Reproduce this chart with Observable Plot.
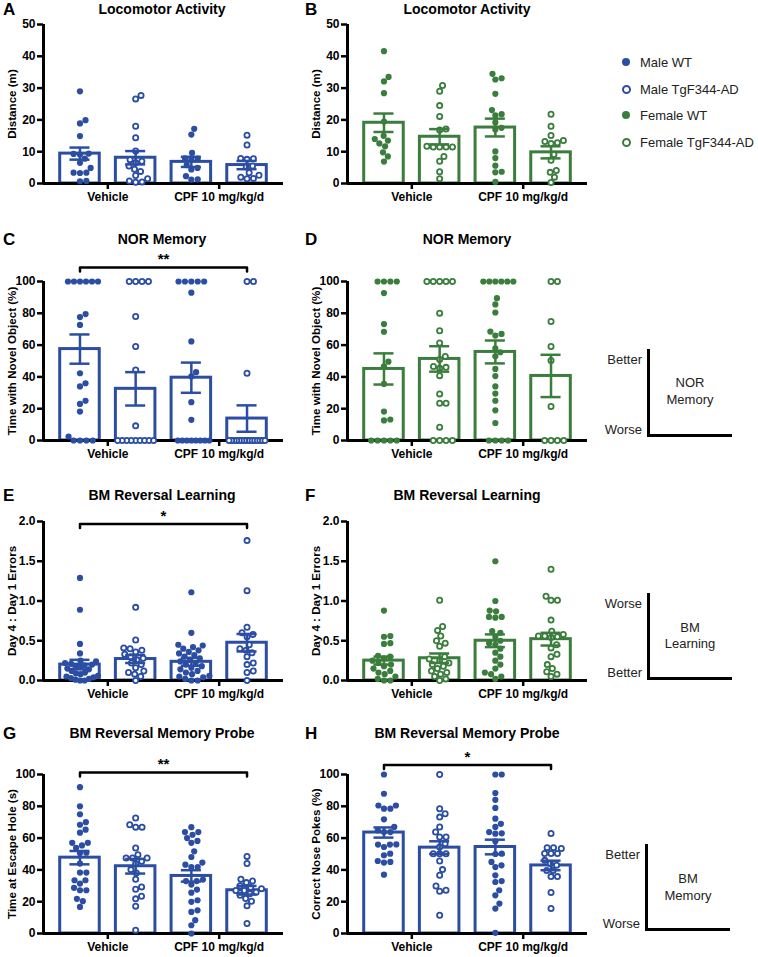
<!DOCTYPE html>
<html><head><meta charset="utf-8">
<script src="https://cdn.jsdelivr.net/npm/d3@7"></script>
<script src="https://cdn.jsdelivr.net/npm/@observablehq/plot@0.6"></script>
<style>
body{margin:0;background:#fff}
#root{position:relative;width:758px;height:957px;overflow:hidden;font-family:"Liberation Sans",Arial,Helvetica,sans-serif;color:#000;background:#fff}
.abs{position:absolute;white-space:nowrap;line-height:1}
.letter{font-weight:bold;font-size:17px;transform:translate(0,-50%)}
.title{font-weight:bold;font-size:14px;transform:translate(-50%,-50%)}
.ylab{font-weight:bold;font-size:11.6px;transform:translate(-50%,-50%) rotate(-90deg)}
.leg{font-size:13px;color:#222;transform:translate(0,-50%)}
.ann{font-size:13px;color:#222}
.plot{position:absolute}
</style></head>
<body><div id="root"></div>
<script>
// ---------- data ----------
const xTickLabels = ["Vehicle", "CPF 10 mg/kg/d"];
const groupOrder = ["WT Vehicle", "TgF344-AD Vehicle", "WT CPF", "TgF344-AD CPF"];
const legendLabels = ["Male WT", "Male TgF344-AD", "Female WT", "Female TgF344-AD"];
const panelTitles = ["Locomotor Activity", "Locomotor Activity", "NOR Memory", "NOR Memory",
  "BM Reversal Learning", "BM Reversal Learning", "BM Reversal Memory Probe", "BM Reversal Memory Probe"];
const panelLetters = ["A", "B", "C", "D", "E", "F", "G", "H"];
const yLabels = ["Distance (m)", "Distance (m)", "Time with Novel Object (%)", "Time with Novel Object (%)",
  "Day 4 : Day 1 Errors", "Day 4 : Day 1 Errors", "Time at Escape Hole (s)", "Correct Nose Pokes (%)"];
const ticks50 = [0, 10, 20, 30, 40, 50];
const ticks100 = [0, 20, 40, 60, 80, 100];
const ticks2 = [0, 0.5, 1, 1.5, 2];

// A: male locomotor
const A_points = [
  [29.0, 19.9, 18.9, 14.9, 9.4, 9.3, 9.1, 7.8, 6.5, 4.9, 3.4, 3.4, 3.3, 0.8, 0.7],
  [27.7, 26.6, 18.0, 14.4, 10.2, 7.5, 7.0, 6.5, 5.5, 4.5, 3.8, 2.5, 1.5, 0.8, 0.5, 0.4],
  [17.2, 15.4, 9.6, 7.9, 7.8, 7.6, 5.8, 4.9, 4.4, 2.3, 1.3, 1.2],
  [15.2, 12.1, 7.9, 7.8, 7.6, 5.5, 5.2, 3.4, 2.6, 2.0, 1.6, 1.5]];
const A_mean = [9.4, 8.1, 6.8, 5.8];
const A_sem = [1.9, 2.1, 1.6, 1.3];
// B: female locomotor
const B_points = [
  [41.6, 33.5, 32.1, 28.4, 19.5, 15.0, 14.0, 13.5, 12.6, 11.7, 9.8, 8.5, 6.9],
  [30.8, 29.0, 24.5, 21.1, 17.1, 16.8, 11.7, 11.5, 11.5, 11.5, 11.5, 8.5, 7.0, 3.7, 1.5],
  [34.5, 33.1, 32.7, 28.2, 23.1, 21.8, 21.4, 19.2, 17.5, 17.0, 10.1, 8.0, 5.6, 3.7, 3.5, 0.5],
  [21.8, 18.0, 15.1, 13.5, 13.2, 12.8, 12.6, 9.1, 7.3, 4.1, 3.5, 2.0, 0.3]];
const B_mean = [19.1, 14.7, 17.6, 9.8];
const B_sem = [2.9, 2.4, 2.8, 1.9];
// C: male NOR
const C_points = [
  [100, 100, 100, 100, 100, 100, 79.5, 77.6, 72.7, 42.3, 36, 34, 25, 23, 18.2, 2.5, 0, 0, 0, 0],
  [100, 100, 100, 100, 78, 59.1, 44.4, 9.2, 0, 0, 0, 0, 0, 0, 0, 0, 0],
  [100, 100, 100, 100, 100, 93, 62.3, 43, 40.3, 24.1, 13, 0, 0, 0, 0, 0, 0, 0, 0],
  [100, 100, 42.3, 0, 0, 0, 0, 0, 0, 0, 0, 0, 0, 0, 0, 0, 0, 0]];
const C_mean = [57.5, 32.5, 39.5, 13.8];
const C_sem = [9.2, 10.5, 9.5, 8.3];
// D: female NOR
const D_points = [
  [100, 100, 100, 100, 92.7, 73.2, 68.4, 49.6, 46.7, 35.6, 18.2, 13.2, 12.6, 0, 0, 0, 0, 0],
  [100, 100, 100, 100, 100, 80.1, 69, 61.3, 52.9, 51, 46, 45.5, 46.5, 40.8, 29.3, 23.4, 23.4, 8.4, 0, 0, 0, 0],
  [100, 100, 100, 100, 100, 100, 89.5, 85.6, 80.5, 68.5, 67, 66, 58, 55.5, 53, 45, 40.5, 34, 29.5, 25, 19, 11, 0, 0, 0, 0],
  [100, 100, 74.8, 59.1, 50.3, 21.4, 0, 0, 0, 0]];
const D_mean = [45, 51.3, 55.7, 40.6];
const D_sem = [9.8, 8.0, 7.2, 13.3];
// E: male BM reversal learning
const E_points = [
  [1.29, 0.89, 0.46, 0.34, 0.25, 0.24, 0.22, 0.21, 0.2, 0.19, 0.18, 0.17, 0.15, 0.14, 0.12, 0.1, 0.09, 0.08, 0.06, 0.05, 0.04, 0.03, 0.02, 0.01, 0, 0],
  [0.92, 0.51, 0.41, 0.4, 0.38, 0.36, 0.33, 0.3, 0.28, 0.26, 0.22, 0.2, 0.16, 0.12, 0.1, 0.08, 0.05, 0],
  [1.11, 0.6, 0.45, 0.44, 0.42, 0.4, 0.38, 0.36, 0.34, 0.32, 0.3, 0.28, 0.26, 0.24, 0.22, 0.2, 0.18, 0.16, 0.14, 0.12, 0.1, 0.08, 0.06, 0.05, 0.04, 0.02, 0, 0],
  [1.76, 1.13, 0.67, 0.6, 0.58, 0.55, 0.45, 0.4, 0.38, 0.35, 0.3, 0.22, 0.2, 0.12, 0.1, 0]];
const E_mean = [0.2, 0.27, 0.235, 0.475];
const E_sem = [0.06, 0.05, 0.05, 0.11];
// F: female BM reversal learning
const F_points = [
  [0.88, 0.56, 0.55, 0.47, 0.46, 0.31, 0.3, 0.28, 0.25, 0.22, 0.2, 0.18, 0.15, 0.12, 0.1, 0.08, 0.05, 0.02, 0, 0],
  [1.01, 0.68, 0.63, 0.56, 0.5, 0.47, 0.43, 0.3, 0.27, 0.25, 0.22, 0.2, 0.18, 0.15, 0.12, 0.1, 0.08, 0.05, 0.02, 0],
  [1.5, 1.0, 0.88, 0.87, 0.8, 0.8, 0.79, 0.62, 0.6, 0.55, 0.5, 0.47, 0.45, 0.4, 0.35, 0.3, 0.25, 0.2, 0.15, 0.1, 0.08, 0.05, 0.02],
  [1.4, 1.06, 1.01, 1.01, 0.76, 0.62, 0.58, 0.56, 0.56, 0.55, 0.54, 0.45, 0.41, 0.33, 0.3, 0.2, 0.15, 0.11, 0.08, 0.05]];
const F_mean = [0.25, 0.28, 0.5, 0.52];
const F_sem = [0.05, 0.06, 0.08, 0.08];
// G: male BM memory probe (time at escape hole)
const G_points = [
  [92, 80, 75, 70, 68.4, 65.3, 63.4, 53.8, 57, 57, 55.4, 50.8, 50.6, 44, 38.3, 38.3, 33.5, 33.5, 31.4, 28.7, 27.2, 27.2, 21.8, 20.3, 16.7],
  [72.6, 68.4, 66.9, 66.9, 53.8, 49.6, 47.5, 45.4, 47.5, 47.5, 44, 40.2, 38.1, 34.1, 29.3, 27.8, 21.8, 23.4, 17.2, 2.1],
  [66.9, 63.8, 63.8, 62.1, 60, 58.2, 57, 51.7, 48.1, 43.3, 44.6, 41.8, 41.8, 33.9, 33, 33, 30.8, 27.6, 25.7, 19.9, 20.9, 14.6, 13.6, 8.4, 5.2, 0],
  [48.5, 44, 34.1, 33, 32, 30, 29, 28.2, 27, 27, 26, 25, 24, 22, 20.3, 17.4, 6.3]];
const G_mean = [47.7, 42.3, 36.2, 27.2];
const G_sem = [4.2, 4.6, 3.6, 2.7];
// H: male BM memory probe (correct nose pokes)
const H_points = [
  [100, 87.9, 80.5, 80.5, 78.5, 78.5, 71.8, 63.8, 64.9, 67, 63.8, 55.9, 55.9, 54.4, 56, 50.2, 49.2, 45.6, 45, 44.6, 37],
  [100, 78.5, 73.2, 75.3, 67, 63.8, 60.7, 60.7, 54.4, 56.5, 50.2, 50.2, 50.2, 45.6, 40.2, 36.6, 27.2, 26.6, 29.9, 11.5],
  [100, 100, 88.3, 84.1, 79, 72.2, 69, 67, 63.8, 63, 62.8, 58, 50.2, 50, 45, 42.9, 41.8, 36.6, 33, 32.4, 27.2, 24, 18.8, 15.7, 0.4],
  [62.9, 54, 53.5, 54, 50.3, 50.3, 50.3, 46, 44, 43, 39.6, 39.6, 35.8, 35.8, 25.8, 15.7]];
const H_mean = [63.5, 54, 54.4, 42.8];
const H_sem = [3.2, 4.0, 4.6, 3.0];
// significance brackets: [from group, to group, level, label]
const C_bracket = [1, 4, 108.8, "**"];
const E_bracket = [1, 4, 1.97, "*"];
const G_bracket = [1, 4, 101.3, "**"];
const H_bracket = [1, 4, 106, "*"];

// ---------- layout ----------
const blue = "#2b4ea3", green = "#3a7d3c";
const root = document.getElementById("root");
const FRAME_W = 240, FRAME_H = 159;
const M = {left: 43, right: 15, top: 20, bottom: 24};
const xDomain = [0.345, 4.655];
const colLeft = [0, 304];
const rowTop = [24, 281, 521, 774];

function swarm(vals, k, r, maxHalf) {
  const d = 2 * r;
  const pts = vals.map((v, i) => ({i, y: v * k, x: 0})).sort((a, b) => a.y - b.y || a.i - b.i);
  const placed = [];
  for (const p of pts) {
    const cands = [0];
    for (const q of placed) {
      const dy = Math.abs(q.y - p.y);
      if (dy < d) { const dx = Math.sqrt(d * d - dy * dy); cands.push(q.x + dx, q.x - dx); }
    }
    cands.sort((a, b) => Math.abs(a) - Math.abs(b) || b - a);
    let c = cands.find(c => placed.every(q => (q.x - c) ** 2 + (q.y - p.y) ** 2 >= d * d - 1e-6));
    if (c === undefined) c = d3.max(placed, q => Math.abs(q.x)) + d;
    p.x = c;
    placed.push(p);
  }
  let cluster = [];
  const flush = () => {
    const m = d3.max(cluster, p => Math.abs(p.x));
    if (m > maxHalf) cluster.forEach(p => p.x *= maxHalf / m);
    cluster = [];
  };
  pts.forEach((p, j) => { if (j && p.y - pts[j - 1].y >= d) flush(); cluster.push(p); });
  flush();
  const out = [];
  pts.forEach(p => out[p.i] = p.x);
  return out;
}

function addDiv(cls, text, x, y, extra) {
  const el = document.createElement("div");
  el.className = "abs " + cls;
  el.textContent = text;
  el.style.left = x + "px";
  el.style.top = y + "px";
  if (extra) Object.assign(el.style, extra);
  root.appendChild(el);
  return el;
}

function panel(idx, points, mean, sem, color, ymax, yticks, fmt, bracket) {
  const col = idx % 2, row = Math.floor(idx / 2);
  const pxX = FRAME_W / (xDomain[1] - xDomain[0]);
  const pxY = FRAME_H / ymax;
  const dots = [];
  points.forEach((vals, g) => {
    const offs = swarm(vals, pxY, 3.2, 18);
    vals.forEach((v, i) => dots.push({x: g + 1 + offs[i] / pxX, y: v, hollow: g % 2 === 1}));
  });
  const bars = mean.map((m, g) => ({x1: g + 1 - 0.355, x2: g + 1 + 0.355, xc: g + 1, m, lo: m - sem[g], hi: m + sem[g]}));
  const marks = [
    Plot.rectY(bars, {x1: "x1", x2: "x2", y1: 0, y2: "m", fill: "white", stroke: color, strokeWidth: 3}),
    Plot.ruleY([0], {stroke: "black", strokeWidth: 3}),
    Plot.ruleX([xDomain[0]], {stroke: "black", strokeWidth: 3}),
    Plot.axisY({ticks: yticks, tickFormat: fmt, tickSize: 6, tickPadding: 2, strokeWidth: 2.5, label: null}),
    Plot.axisX({ticks: [1.5, 3.5], tickFormat: d => xTickLabels[d < 2.5 ? 0 : 1], tickSize: 6, tickPadding: 3, strokeWidth: 2.5, label: null}),
    Plot.dot(dots.filter(d => !d.hollow), {x: "x", y: "y", r: 3.1, fill: color}),
    Plot.dot(dots.filter(d => d.hollow), {x: "x", y: "y", r: 2.6, fill: "white", stroke: color, strokeWidth: 1.8}),
    Plot.ruleX(bars, {x: "xc", y1: "lo", y2: "hi", stroke: color, strokeWidth: 2.5}),
    Plot.ruleY(bars, {x1: d => d.xc - 0.18, x2: d => d.xc + 0.18, y: "hi", stroke: color, strokeWidth: 2.5}),
    Plot.ruleY(bars, {x1: d => d.xc - 0.18, x2: d => d.xc + 0.18, y: "lo", stroke: color, strokeWidth: 2.5})
  ];
  if (bracket) {
    const [b1, b2, by, lab] = bracket;
    const tick = 4 / pxY;
    marks.push(Plot.line([[b1, by - tick], [b1, by], [b2, by], [b2, by - tick]], {stroke: "black", strokeWidth: 2.5}));
    marks.push(Plot.text([lab], {x: (b1 + b2) / 2, y: by, dy: -8, fontSize: 15, fontWeight: "bold"}));
  }
  const svg = Plot.plot({
    width: M.left + FRAME_W + M.right,
    height: M.top + FRAME_H + M.bottom,
    marginLeft: M.left, marginRight: M.right, marginTop: M.top, marginBottom: M.bottom,
    x: {domain: xDomain},
    y: {domain: [0, ymax]},
    style: {fontFamily: "'Liberation Sans', Arial, sans-serif", fontSize: "12px", fontWeight: "bold", color: "black", background: "transparent", overflow: "visible"},
    marks
  });
  svg.classList.add("plot");
  svg.style.position = "absolute";
  svg.style.left = colLeft[col] + "px";
  svg.style.top = (rowTop[row] - M.top) + "px";
  root.appendChild(svg);
  // y label, letter, title
  addDiv("ylab", yLabels[idx], colLeft[col] + 12, rowTop[row] + FRAME_H / 2);
  const titleY = [9, 239, 495, 733][row];
  addDiv("letter", panelLetters[idx], col ? 305 : 3, titleY);
  addDiv("title", panelTitles[idx], col ? 467 : 162, titleY);
}

const fmt0 = d3.format("d"), fmt1 = d3.format(".1f");
panel(0, A_points, A_mean, A_sem, blue, 50, ticks50, fmt0, null);
panel(1, B_points, B_mean, B_sem, green, 50, ticks50, fmt0, null);
panel(2, C_points, C_mean, C_sem, blue, 100, ticks100, fmt0, C_bracket);
panel(3, D_points, D_mean, D_sem, green, 100, ticks100, fmt0, null);
panel(4, E_points, E_mean, E_sem, blue, 2, ticks2, fmt1, E_bracket);
panel(5, F_points, F_mean, F_sem, green, 2, ticks2, fmt1, null);
panel(6, G_points, G_mean, G_sem, blue, 100, ticks100, fmt0, G_bracket);
panel(7, H_points, H_mean, H_sem, blue, 100, ticks100, fmt0, H_bracket);

// legend
const legColors = [blue, blue, green, green];
const legY = [62, 89, 115, 142];
legendLabels.forEach((lab, i) => {
  const hollow = i % 2 === 1;
  const c = document.createElement("div");
  c.className = "abs";
  Object.assign(c.style, {left: "622px", top: (legY[i] - 4) + "px", width: hollow ? "5px" : "8px", height: hollow ? "5px" : "8px",
    borderRadius: "50%", background: hollow ? "white" : legColors[i], border: hollow ? `2px solid ${legColors[i]}` : "none"});
  root.appendChild(c);
  addDiv("leg", lab, 640, legY[i]);
});

// better / worse annotations
function scaleNote(x, yTop, yBot, xEnd, topWord, botWord, l1, l2, cx, cy1, cy2) {
  const v = document.createElement("div");
  v.className = "abs";
  Object.assign(v.style, {left: (x - 1) + "px", top: yTop + "px", width: "2.5px", height: (yBot - yTop) + "px", background: "#000"});
  root.appendChild(v);
  const h = document.createElement("div");
  h.className = "abs";
  Object.assign(h.style, {left: (x - 1) + "px", top: (yBot - 1) + "px", width: (xEnd - x) + "px", height: "2.5px", background: "#000"});
  root.appendChild(h);
  addDiv("ann", topWord, x - 6, yTop + 10, {transform: "translate(-100%,-50%)"});
  addDiv("ann", botWord, x - 6, yBot - 6, {transform: "translate(-100%,-50%)"});
  addDiv("ann", l1, cx, cy1, {transform: "translate(-50%,-50%)"});
  addDiv("ann", l2, cx, cy2, {transform: "translate(-50%,-50%)"});
}
scaleNote(648, 349, 435, 733, "Better", "Worse", "NOR", "Memory", 690, 382, 399);
scaleNote(648, 593, 678, 733, "Worse", "Better", "BM", "Learning", 690, 627, 643);
scaleNote(646, 844, 929, 731, "Better", "Worse", "BM", "Memory", 688, 878, 895);
</script></body></html>
